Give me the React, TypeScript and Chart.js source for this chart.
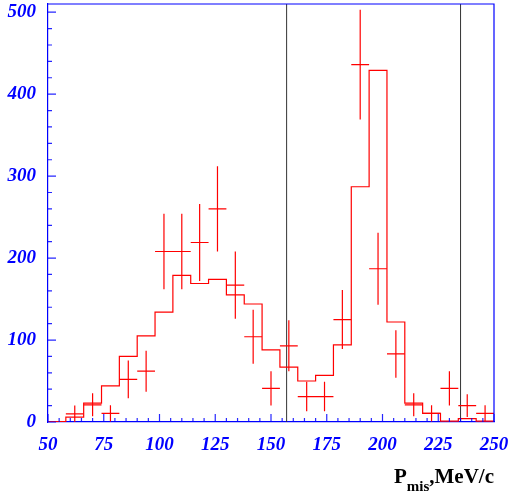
import React, { useEffect, useRef } from 'react';
import { Chart, registerables } from 'chart.js';

Chart.register(...registerables);

// Histogram bin edges (MeV/c) and simulated counts per bin
const binEdges = [50, 58, 66, 74, 82, 90, 98, 106, 114, 122, 130, 138, 146, 154, 162, 170, 178, 186, 194, 202, 210, 218, 226, 234, 242, 250];
const histValues = [0.5, 6, 23, 44, 80, 105, 134, 179, 169, 174, 155, 144, 88, 67, 50, 57, 94, 287, 429, 122, 23, 10.5, 1, 4, 1];

// Measured points (bin centres), values and errors
const pointX = [62, 70, 78, 86, 94, 102, 110, 118, 126, 134, 142, 150, 158, 166, 174, 182, 190, 198, 206, 214, 222, 230, 238, 246];
const pointY = [10, 21, 10.5, 52, 62, 208, 208, 219, 260, 167, 104, 41, 93, 31, 31, 125, 436, 187, 83, 21, 10.5, 41, 20, 10.5];
const pointErr = [10, 14, 10, 23, 25, 46, 46, 47, 52, 41, 33, 21, 31, 18, 18, 36, 67, 44, 29, 14, 10, 21, 14, 10];
const halfBin = 4;

// Vertical cut lines
const cutLines = [157, 235];

// Axes
const xMin = 50;
const xMax = 250;
const yMin = 0;
const yMax = 510;
const xTicks = [50, 75, 100, 125, 150, 175, 200, 225, 250];
const yTicks = [0, 100, 200, 300, 400, 500];
const xMinorStep = 5;
const yMinorStep = 20;

const SERIF = "'Liberation Serif', 'Times New Roman', serif";
const BLUE = '#0000ff';
const RED = '#ff0000';

const frameTicksPlugin = {
  id: 'frameTicks',
  afterDatasetsDraw(chart: any) {
    const { ctx, chartArea, scales } = chart;
    const xs = scales.x;
    const ys = scales.y;
    ctx.save();
    // frame top & right
    ctx.strokeStyle = BLUE;
    ctx.lineWidth = 1.2;
    ctx.beginPath();
    ctx.moveTo(chartArea.left, chartArea.top);
    ctx.lineTo(chartArea.right, chartArea.top);
    ctx.lineTo(chartArea.right, chartArea.bottom);
    ctx.stroke();
    // ticks inside
    ctx.strokeStyle = 'rgba(0,0,255,0.85)';
    ctx.lineWidth = 1.2;
    ctx.beginPath();
    for (let v = xMin; v <= xMax + 1e-6; v += xMinorStep) {
      const major = xTicks.includes(v);
      const px = xs.getPixelForValue(v);
      const len = major ? 8 : 4;
      ctx.moveTo(px, chartArea.bottom);
      ctx.lineTo(px, chartArea.bottom - len);
    }
    for (let v = yMin; v <= yMax + 1e-6; v += yMinorStep) {
      const major = yTicks.includes(v);
      const py = ys.getPixelForValue(v);
      const len = major ? 8 : 4;
      ctx.moveTo(chartArea.left, py);
      ctx.lineTo(chartArea.left + len, py);
    }
    ctx.stroke();
    ctx.restore();
  },
};

export default function App() {
  const canvasRef = useRef<HTMLCanvasElement | null>(null);

  useEffect(() => {
    document.body.style.margin = '0';
    const canvas = canvasRef.current;
    if (!canvas) return;

    const histData = binEdges.map((e, i) => ({ x: e, y: histValues[Math.min(i, histValues.length - 1)] }));

    const vErr: any[] = [];
    const hErr: any[] = [];
    pointX.forEach((x, i) => {
      const y = pointY[i];
      const e = pointErr[i];
      vErr.push({ x, y: Math.max(0, y - e) }, { x, y: y + e }, { x, y: null });
      hErr.push({ x: x - halfBin, y }, { x: x + halfBin, y }, { x, y: null });
    });

    const cutData: any[] = [];
    cutLines.forEach((c) => {
      cutData.push({ x: c, y: yMin }, { x: c, y: yMax }, { x: c, y: null });
    });

    const chart = new Chart(canvas, {
      type: 'line',
      data: {
        datasets: [
          {
            label: 'hist',
            data: histData,
            stepped: 'before',
            borderColor: RED,
            borderWidth: 1.2,
            pointRadius: 0,
            fill: false,
          },
          {
            label: 'vErr',
            data: vErr,
            borderColor: RED,
            borderWidth: 1.2,
            pointRadius: 0,
            spanGaps: false,
            fill: false,
          },
          {
            label: 'hErr',
            data: hErr,
            borderColor: RED,
            borderWidth: 1.2,
            pointRadius: 0,
            spanGaps: false,
            fill: false,
          },
          {
            label: 'cuts',
            data: cutData,
            borderColor: '#333333',
            borderWidth: 1,
            pointRadius: 0,
            spanGaps: false,
            fill: false,
          },
        ],
      } as any,
      options: {
        animation: false,
        responsive: false,
        maintainAspectRatio: false,
        layout: { padding: { top: 4, right: 15, left: 0, bottom: 0 } },
        plugins: {
          legend: { display: false },
          tooltip: { enabled: false },
        },
        elements: { line: { tension: 0 } },
        scales: {
          x: {
            type: 'linear',
            min: xMin,
            max: xMax,
            grid: { display: false, drawTicks: false },
            border: { display: true, color: BLUE, width: 1.2 },
            afterBuildTicks: (scale: any) => {
              scale.ticks = xTicks.map((v) => ({ value: v }));
            },
            afterFit: (scale: any) => {
              scale.height = 72;
              scale.paddingLeft = 0;
              scale.paddingRight = 0;
            },
            ticks: {
              color: BLUE,
              padding: 12,
              autoSkip: false,
              maxRotation: 0,
              minRotation: 0,
              font: { family: SERIF, size: 19, style: 'italic', weight: 'bold' },
              callback: (v: any) => String(v),
            },
          },
          y: {
            type: 'linear',
            min: yMin,
            max: yMax,
            grid: { display: false, drawTicks: false },
            border: { display: true, color: BLUE, width: 1.2 },
            afterBuildTicks: (scale: any) => {
              scale.ticks = yTicks.map((v) => ({ value: v }));
            },
            afterFit: (scale: any) => {
              scale.width = 48;
              scale.paddingTop = 0;
              scale.paddingBottom = 0;
            },
            ticks: {
              color: BLUE,
              padding: 12,
              autoSkip: false,
              font: { family: SERIF, size: 19, style: 'italic', weight: 'bold' },
              callback: (v: any) => String(v),
            },
          },
        },
      } as any,
      plugins: [frameTicksPlugin],
    });

    return () => {
      chart.destroy();
    };
  }, []);

  return (
    <div style={{ position: 'fixed', left: 0, top: 0, width: 509, height: 494, background: '#fff' }}>
      <canvas ref={canvasRef} width={509} height={494} style={{ width: 509, height: 494, display: 'block' }} />
      <div
        style={{
          position: 'absolute',
          right: 15,
          top: 466,
          fontFamily: SERIF,
          fontWeight: 'bold',
          fontSize: 21,
          lineHeight: '21px',
          color: '#000',
          whiteSpace: 'nowrap',
        }}
      >
        P<span style={{ fontSize: 15, position: 'relative', top: 8 }}>mis</span>,MeV/c
      </div>
    </div>
  );
}
